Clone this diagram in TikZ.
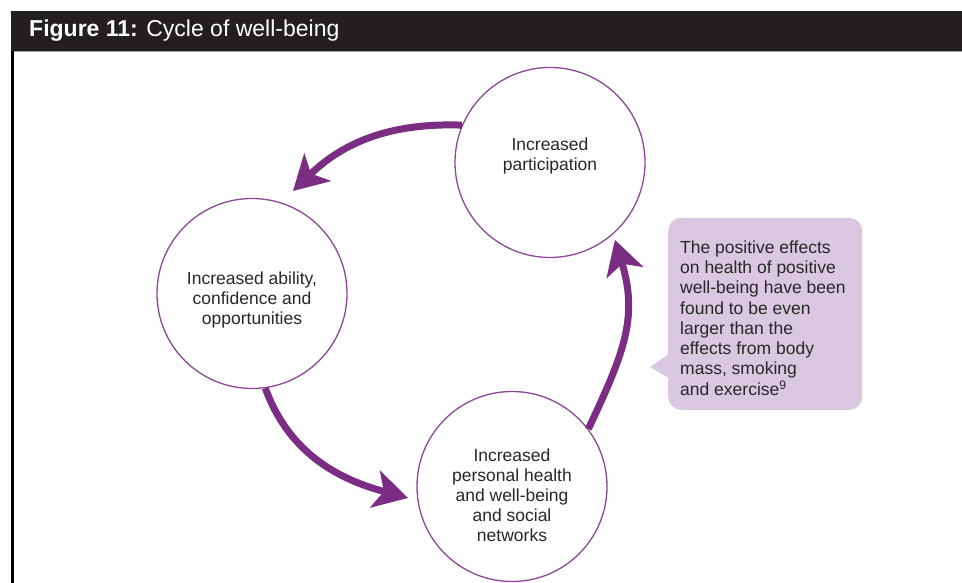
\documentclass[tikz,border=0pt]{standalone}
\usepackage{fontspec}
\setmainfont{Liberation Sans}
\usetikzlibrary{arrows.meta,calc}
\definecolor{cyclepurple}{RGB}{123,44,131}
\definecolor{ringpurple}{RGB}{140,72,150}
\definecolor{headerbg}{RGB}{35,31,32}
\definecolor{notefill}{RGB}{217,200,224}
\definecolor{bodytext}{RGB}{40,40,40}
\begin{document}
\begin{tikzpicture}[x=1pt,y=1pt,
  ring/.style={circle, draw=ringpurple, line width=1.3pt, minimum size=190pt, inner sep=0pt},
  ringtext/.style={font=\fontsize{17.5}{20}\selectfont, text=bodytext, align=center, anchor=north, inner sep=0pt},
  notetext/.style={font=\fontsize{17.5}{20.3}\selectfont, text=bodytext, align=left, anchor=north west, inner sep=0pt},
  cyclearrow/.style={draw=cyclepurple, line width=7pt, -{Stealth[length=34pt,width=38pt,inset=9pt]}},
]
\useasboundingbox (0,0) rectangle (962,583);
\fill[white] (0,0) rectangle (962,583);

% title bar and frame
\fill[headerbg] (11,532) rectangle (962,572);
\draw[black!35, line width=1pt] (11,531.5) -- (962,531.5);
\draw[black, line width=2.5pt] (12.5,0) -- (12.5,532);
\node[anchor=base west, text=white, font=\fontsize{23}{27}\selectfont, inner sep=0pt] (title) at (29,546)
  {\textbf{Figure 11:} Cycle of well-being};

% the three stages of the cycle
\node[ring] (c1) at (550,420.5) {};
\node[ring] (c2) at (252,289.5) {};
\node[ring] (c3) at (512,96.5) {};

\node[ringtext] (l1) at (550,445.7) {Increased\\participation};
\node[ringtext] (l2) at (252,311.7) {Increased ability,\\confidence and\\opportunities};
\node[ringtext] (l3) at (512,134.7) {Increased\\personal health\\and well-being\\and social\\networks};

% arrow tips stop just short of the next ring
\coordinate (e1) at ($(c2.center)+(68.2:110.4pt)$);
\coordinate (e2) at ($(c3.center)+(186.3:104.6pt)$);
\coordinate (e3) at ($(c1.center)+(-50:101pt)$);

\draw[cyclearrow] (c1.157.5) to[out=178,in=44] (e1);
\draw[cyclearrow] (c2.-82) to[out=-70,in=165] (e2);
\draw[cyclearrow] (c3.37) to[out=65,in=-73,looseness=1.1] (e3);

% speech bubble
\node[fill=notefill, rounded corners=13pt, minimum width=194pt, minimum height=192pt,
      inner sep=0pt, anchor=south west] (note) at (668,173) {};
\coordinate (ptr) at (650,216);
\fill[notefill] (672,231) -- (ptr) -- (672,203) -- cycle;
\node[notetext] (notelabel) at (680,342.7)
  {The positive effects\\on health of positive\\well-being have been\\found to be even\\larger than the\\effects from body\\mass, smoking\\and exercise\textsuperscript{9}};
\end{tikzpicture}
\end{document}
